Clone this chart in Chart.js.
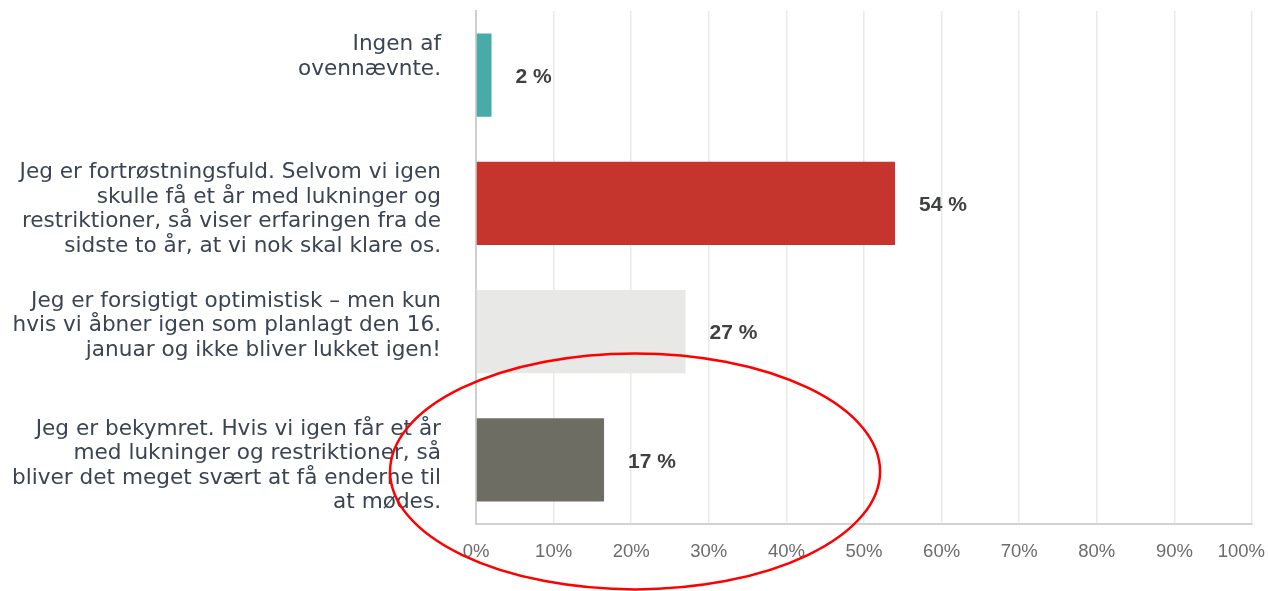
<!DOCTYPE html>
<html>
<head>
<meta charset="utf-8">
<script src="https://cdn.jsdelivr.net/npm/chart.js@4/dist/chart.umd.min.js"></script>
<style>
  html, body { margin: 0; padding: 0; background: #fff; }
  #wrap { width: 1268px; height: 591px; }
</style>
</head>
<body>
<div id="wrap"><canvas id="surveyChart"></canvas></div>
<script>
// answer options, top to bottom
const answers = [
  ["Ingen af", "ovennævnte."],
  ["Jeg er fortrøstningsfuld. Selvom vi igen", "skulle få et år med lukninger og", "restriktioner, så viser erfaringen fra de", "sidste to år, at vi nok skal klare os."],
  ["Jeg er forsigtigt optimistisk – men kun", "hvis vi åbner igen som planlagt den 16.", "januar og ikke bliver lukket igen!"],
  ["Jeg er bekymret. Hvis vi igen får et år", "med lukninger og restriktioner, så", "bliver det meget svært at få enderne til", "at mødes."]
];
const shares = [2, 54, 27, 16.5];
const barColors = ["#48aba8", "#c5342d", "#e8e8e6", "#6e6d63"];
const xTicks = [0, 10, 20, 30, 40, 50, 60, 70, 80, 90, 100];

const textPlugin = {
  id: "textPlugin",
  afterDraw(chart) {
    const c = chart.ctx;
    const xs = chart.scales.x;
    const ys = chart.scales.y;
    c.save();

    // category labels on the left
    c.font = '21.6px "DejaVu Sans"';
    c.fillStyle = "#3b4452";
    c.textAlign = "right";
    c.textBaseline = "alphabetic";
    answers.forEach((lines, i) => {
      const y0 = ys.getPixelForValue(i) - 25;
      lines.forEach((ln, k) => c.fillText(ln, chart.chartArea.left - 35, y0 + k * 24.5));
    });

    // value labels
    c.font = 'bold 21px "Liberation Sans"';
    c.fillStyle = "#3f4040";
    c.textAlign = "left";
    c.textBaseline = "middle";
    shares.forEach((v, i) => {
      c.fillText(Math.round(v) + " %", xs.getPixelForValue(v) + 24, ys.getPixelForValue(i) + 2);
    });

    // x tick labels
    c.font = '18.5px "Liberation Sans"';
    c.fillStyle = "#6b6b6b";
    c.textAlign = "center";
    c.textBaseline = "alphabetic";
    xTicks.forEach(t => {
      const label = t + "%";
      const w = c.measureText(label).width;
      const x = Math.min(xs.getPixelForValue(t), chart.width - w / 2 - 3);
      c.fillText(label, x, chart.chartArea.bottom + 33);
    });

    // red highlight ellipse around the last answer
    c.strokeStyle = "#ff0000";
    c.lineWidth = 2.5;
    c.beginPath();
    c.ellipse(xs.getPixelForValue(20.5), ys.getPixelForValue(3) + 11.5, 245, 118, 0, 0, Math.PI * 2);
    c.stroke();
    c.restore();
  }
};

new Chart(document.getElementById("surveyChart"), {
  type: "bar",
  data: {
    labels: answers,
    datasets: [{
      data: shares,
      backgroundColor: barColors,
      borderWidth: 0,
      barPercentage: 0.65,
      categoryPercentage: 1
    }]
  },
  plugins: [textPlugin],
  options: {
    indexAxis: "y",
    responsive: true,
    maintainAspectRatio: false,
    animation: false,
    layout: { padding: { left: 476, right: 16, top: 11, bottom: 67 } },
    plugins: { legend: { display: false }, tooltip: { enabled: false } },
    scales: {
      x: {
        min: 0,
        max: 100,
        ticks: { stepSize: 10, display: false },
        grid: { color: "#e9e9e9", lineWidth: 1.5, drawTicks: false },
        border: { color: "#d2d2d2", width: 2 },
        afterFit: s => { s.height = 0; s.paddingLeft = 0; s.paddingRight = 0; }
      },
      y: {
        ticks: { display: false },
        grid: { display: false, drawTicks: false },
        border: { color: "#cfcfcf", width: 2 },
        afterFit: s => { s.width = 0; s.paddingTop = 0; s.paddingBottom = 0; }
      }
    }
  }
});
</script>
</body>
</html>
